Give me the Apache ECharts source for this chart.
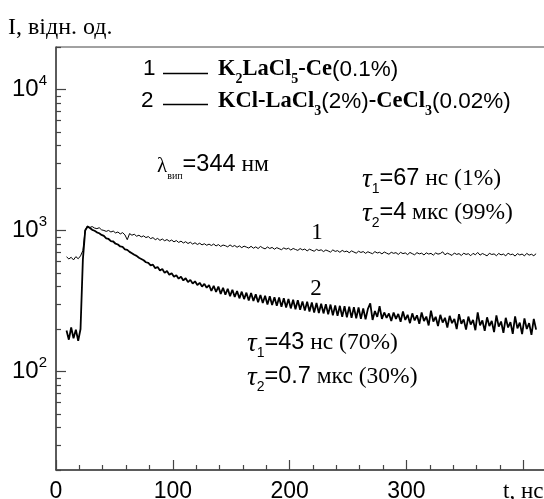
<!DOCTYPE html>
<html><head><meta charset="utf-8">
<script src="https://cdn.jsdelivr.net/npm/echarts@6/dist/echarts.min.js"></script>
<style>html,body{margin:0;padding:0;background:#fff}#c{width:544px;height:499px}</style>
</head><body><div id="c"></div>
<script>
// time, ns
const times = [
  9,11,13,15,17,19,21,
  23,25,27,29,31,33,35,37,39,41,
  43,45,47,49,51,53,55,57,59,61,
  63,65,67,69,71,73,75,77,79,81,
  83,85,87,89,91,93,95,97,99,101,
  103,105,107,109,111,113,115,117,119,121,
  123,125,127,129,131,
  133,135,137,139,141,143,145,147,149,151,
  153,155,157,159,161,163,165,167,169,171,
  173,175,177,179,181,183,185,187,189,191,
  193,195,197,199,201,203,205,207,209,211,
  213,215,217,219,221,223,225,227,229,231,
  233,235,237,239,241,243,245,247,249,251,
  253,255,257,259,261,263,265,267,269,271,
  273,275,277,279,281,283,285,287,289,291,
  293,295,297,299,301,303,305,307,309,311,
  313,315,317,319,321,323,325,327,329,331,
  333,335,337,339,341,343,345,347,349,351,
  353,355,357,359,361,363,365,367,369,371,
  373,375,377,379,381,383,385,387,389,391,
  393,395,397,399,401,403,405,407,409,411
];
// curve 1: K2LaCl5-Ce(0.1%)
const curve1 = [
  650,628,645,618,652,630,660,
  720,1010,1075,1050,1065,1040,1030,1045,1010,1000,
  985,1000,975,990,960,975,945,965,930,860,
  950,925,940,910,925,900,915,890,905,875,
  890,860,878,850,870,845,862,838,855,830,
  848,822,840,815,832,808,825,800,818,795,
  812,790,805,785,800,
  782,801,776,794,770,788,779,765,790,768,
  782,760,777,755,774,762,750,772,748,765,
  744,770,752,740,763,745,758,736,755,742,
  730,752,737,748,726,745,733,722,744,728,
  738,716,736,724,712,734,720,729,708,727,
  715,702,728,710,719,700,722,706,714,695,
  716,703,690,712,698,708,688,706,694,684,
  708,692,700,682,703,690,678,700,688,696,
  676,699,685,693,674,698,684,672,696,682,
  690,670,694,680,688,668,693,679,686,705,
  672,690,678,665,692,676,685,664,690,676,
  684,662,688,672,698,668,686,674,660,689,
  675,682,662,687,671,680,660,690,673,679,
  658,685,670,680,660,688,668,678,662,684
];
// curve 2: KCl-LaCl3(2%)-CeCl3(0.02%)
const curve2 = [
  195,168,205,172,198,165,200,
  620,1000,1065,1040,1010,995,970,955,930,915,
  880,870,840,835,805,795,770,765,735,728,
  705,690,672,660,640,628,615,595,588,565,
  572,540,550,520,532,500,515,485,498,470,
  482,455,470,442,458,430,446,420,436,410,
  425,400,418,392,410,
  372,405,366,400,355,392,350,386,342,380,
  338,372,330,368,326,362,318,360,316,352,
  310,348,306,344,298,342,296,336,292,334,
  288,330,284,326,280,322,276,320,274,314,
  270,312,266,308,262,306,260,302,258,300,
  254,298,250,294,248,292,244,290,242,288,
  240,286,238,284,236,280,234,278,304,232,
  268,244,290,236,262,240,258,228,262,236,
  256,225,266,232,252,220,258,230,250,218,
  262,228,245,212,270,226,244,210,252,222,
  240,205,248,220,236,200,255,218,234,198,
  245,215,232,196,262,212,230,194,242,210,
  228,190,250,208,226,188,240,205,224,185,
  246,202,222,184,238,200,220,182,236,198
];
const xTickLabels = [0, 100, 200, 300];
const xNameAt = 400;
const yMajor = [100, 1000, 10000];
const yMinor = [20,30,40,50,60,70,80,90,200,300,400,500,600,700,800,900,
                2000,3000,4000,5000,6000,7000,8000,9000,20000];

const AX = '#444';
const R = {
  f:  {fontFamily:'Liberation Serif', fontWeight:'bold', fontSize:22.5, lineHeight:22, padding:[0,0,5,0], verticalAlign:'bottom', fill:'#000'},
  fs: {fontFamily:'Liberation Serif', fontWeight:'bold', fontSize:14, lineHeight:14, verticalAlign:'bottom', fill:'#000'},
  n:  {fontFamily:'Liberation Sans', fontSize:22.5, lineHeight:22, padding:[0,0,5,0], verticalAlign:'bottom', fill:'#000'},
  a:  {fontFamily:'Liberation Sans', fontSize:23.5, lineHeight:23, padding:[0,0,5,0], verticalAlign:'bottom', fill:'#000'},
  ns: {fontFamily:'Liberation Sans', fontSize:14, lineHeight:14, verticalAlign:'bottom', fill:'#000'},
  r:  {fontFamily:'Liberation Serif', fontSize:23.5, lineHeight:23, padding:[0,0,5,0], verticalAlign:'bottom', fill:'#000'},
  rs: {fontFamily:'Liberation Serif', fontSize:10, lineHeight:10, verticalAlign:'bottom', fill:'#000'},
  lam:{fontFamily:'Liberation Serif', fontSize:21, lineHeight:21, padding:[0,0,5,0], verticalAlign:'bottom', fill:'#000'},
  tau:{fontFamily:'Liberation Serif', fontStyle:'italic', fontSize:27, lineHeight:26, padding:[0,0,3,0], verticalAlign:'bottom', fill:'#000'}
};
function txt(x, y, text) {
  return {type:'text', x:x, y:y, z:100, style:{text:text, rich:R, align:'left', verticalAlign:'middle', fill:'#000'}};
}
function seg(x1, x2, y) {
  return {type:'line', z:100, shape:{x1:x1, y1:y, x2:x2, y2:y}, style:{stroke:'#000', lineWidth:1.5}};
}

const chart = echarts.init(document.getElementById('c'), null, {renderer:'canvas'});
chart.setOption({
  animation:false,
  backgroundColor:'#fff',
  grid:{left:56, top:47, width:514, height:423, containLabel:false, outerBoundsMode:'none',
        show:true, borderColor:AX, borderWidth:1},
  xAxis:{
    type:'value', min:0, max:440, interval:100,
    axisLine:{show:true, lineStyle:{color:AX, width:1.5}},
    axisTick:{show:true, inside:true, length:10, lineStyle:{color:AX, width:1.2}},
    minorTick:{show:true, splitNumber:5, length:5, lineStyle:{color:AX, width:1.2}},
    splitLine:{show:false},
    axisLabel:{
      margin:10, showMaxLabel:false, hideOverlap:false,
      formatter:function(v){
        if (v === xNameAt) return '{t|t, нс}';
        return xTickLabels.indexOf(v) >= 0 ? '{d|' + v + '}' : '';
      },
      rich:{
        d:{fontFamily:'Liberation Sans', fontSize:23, color:'#000'},
        t:{fontFamily:'Liberation Serif', fontSize:23, color:'#000'}
      }
    }
  },
  yAxis:[{
    type:'log', logBase:10, min:20, max:20000,
    axisLine:{show:true, lineStyle:{color:AX, width:1.5}},
    axisTick:{show:true, inside:true, length:10, customValues:yMajor, lineStyle:{color:AX, width:1.2}},
    splitLine:{show:false},
    axisLabel:{
      margin:9, customValues:yMajor,
      formatter:function(v){ return '{m|10}{e|' + Math.round(Math.log10(v)) + '}'; },
      rich:{
        m:{fontFamily:'Liberation Sans', fontSize:24, lineHeight:24, verticalAlign:'bottom', color:'#000'},
        e:{fontFamily:'Liberation Sans', fontSize:15, lineHeight:15, padding:[0,0,13,0], verticalAlign:'bottom', color:'#000'}
      }
    }
  },{
    type:'log', logBase:10, min:20, max:20000, position:'left',
    axisLine:{show:false},
    axisTick:{show:true, inside:true, length:5, customValues:yMinor, lineStyle:{color:AX, width:1.2}},
    axisLabel:{show:false},
    splitLine:{show:false}
  }],
  series:[{
    type:'line', name:'1', yAxisIndex:0, showSymbol:false, symbol:'none',
    data: times.map(function(t,i){ return [t, curve1[i]]; }),
    lineStyle:{color:'#000', width:1}
  },{
    type:'line', name:'2', yAxisIndex:0, showSymbol:false, symbol:'none',
    data: times.map(function(t,i){ return [t, curve2[i]]; }),
    lineStyle:{color:'#000', width:1.8}
  }],
  graphic:[
    {type:'text', x:8, y:28, z:100, style:{text:'I, відн. од.', fontFamily:'Liberation Serif', fontSize:24, fill:'#000', align:'left', verticalAlign:'middle'}},
    txt(143, 74, '{n|1}'), seg(163, 208, 73.5),
    txt(218, 75, '{f|K}{fs|2}{f|LaCl}{fs|5}{f|-Ce}{n|(0.1%)}'),
    txt(141, 106, '{n|2}'), seg(163, 208, 104.5),
    txt(218, 107, '{f|KCl-LaCl}{fs|3}{n|(2%)}{f|-CeCl}{fs|3}{n|(0.02%)}'),
    txt(157, 170, '{lam|λ}{rs|вип}{a|=344}{r| нм}'),
    txt(362, 183, '{tau|τ}{ns|1}{a|=67}{r| нс (1%)}'),
    txt(362, 217, '{tau|τ}{ns|2}{a|=4}{r| мкс (99%)}'),
    {type:'text', x:317, y:233, z:100, style:{text:'1', fontFamily:'Liberation Serif', fontSize:23, fill:'#000', align:'center', verticalAlign:'middle'}},
    {type:'text', x:316, y:289, z:100, style:{text:'2', fontFamily:'Liberation Serif', fontSize:23, fill:'#000', align:'center', verticalAlign:'middle'}},
    txt(247, 347, '{tau|τ}{ns|1}{a|=43}{r| нс (70%)}'),
    txt(247, 381, '{tau|τ}{ns|2}{a|=0.7}{r| мкс (30%)}')
  ]
});
</script></body></html>
